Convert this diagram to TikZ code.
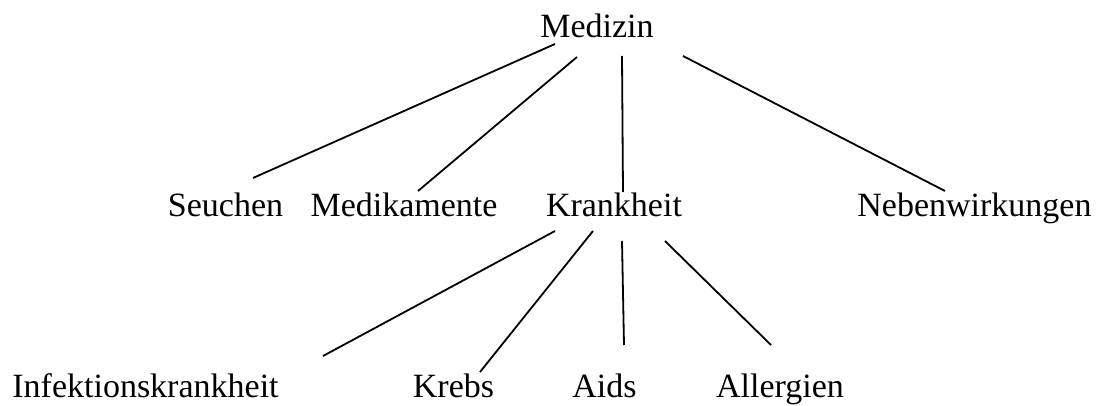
\documentclass[tikz,border=0pt]{standalone}
\usepackage{fontspec}
\setmainfont{Liberation Serif}
\usetikzlibrary{calc}
\begin{document}
\begin{tikzpicture}[x=1pt,y=-1pt,
  lbl/.style={anchor=base,inner sep=0pt,font=\fontsize{34}{40}\selectfont},
  edge/.style={line width=1.8pt,line cap=butt}]
\useasboundingbox (0,0) rectangle (1096,406);
\node[lbl] (med) at (597,38) {Medizin};
\node[lbl] (seu) at (225.5,217) {Seuchen};
\node[lbl] (mdk) at (404,217) {Medikamente};
\node[lbl] (kra) at (614,217) {Krankheit};
\node[lbl] (neb) at (974.5,217) {Nebenwirkungen};
\node[lbl] (inf) at (145.5,397) {Infektionskrankheit};
\node[lbl] (kre) at (453.5,397) {Krebs};
\node[lbl] (aid) at (604.5,397) {Aids};
\node[lbl] (all) at (780,397) {Allergien};
\draw[edge] ($(med.base)+(-42,6)$) -- ($(seu.base)+(27.5,-39)$);
\draw[edge] ($(med.base)+(-20,19)$) -- ($(mdk.base)+(14,-26)$);
\draw[edge] ($(med.base)+(25,18)$) -- ($(kra.base)+(9,-25)$);
\draw[edge] ($(med.base)+(86,18)$) -- ($(neb.base)+(-29.5,-26)$);
\draw[edge] ($(kra.base)+(-59,14)$) -- ($(inf.base)+(177.5,-41)$);
\draw[edge] ($(kra.base)+(-21,14)$) -- ($(kre.base)+(26.5,-25)$);
\draw[edge] ($(kra.base)+(8,24)$) -- ($(aid.base)+(19.5,-52)$);
\draw[edge] ($(kra.base)+(51,24)$) -- ($(all.base)+(-9,-52)$);
\end{tikzpicture}
\end{document}
